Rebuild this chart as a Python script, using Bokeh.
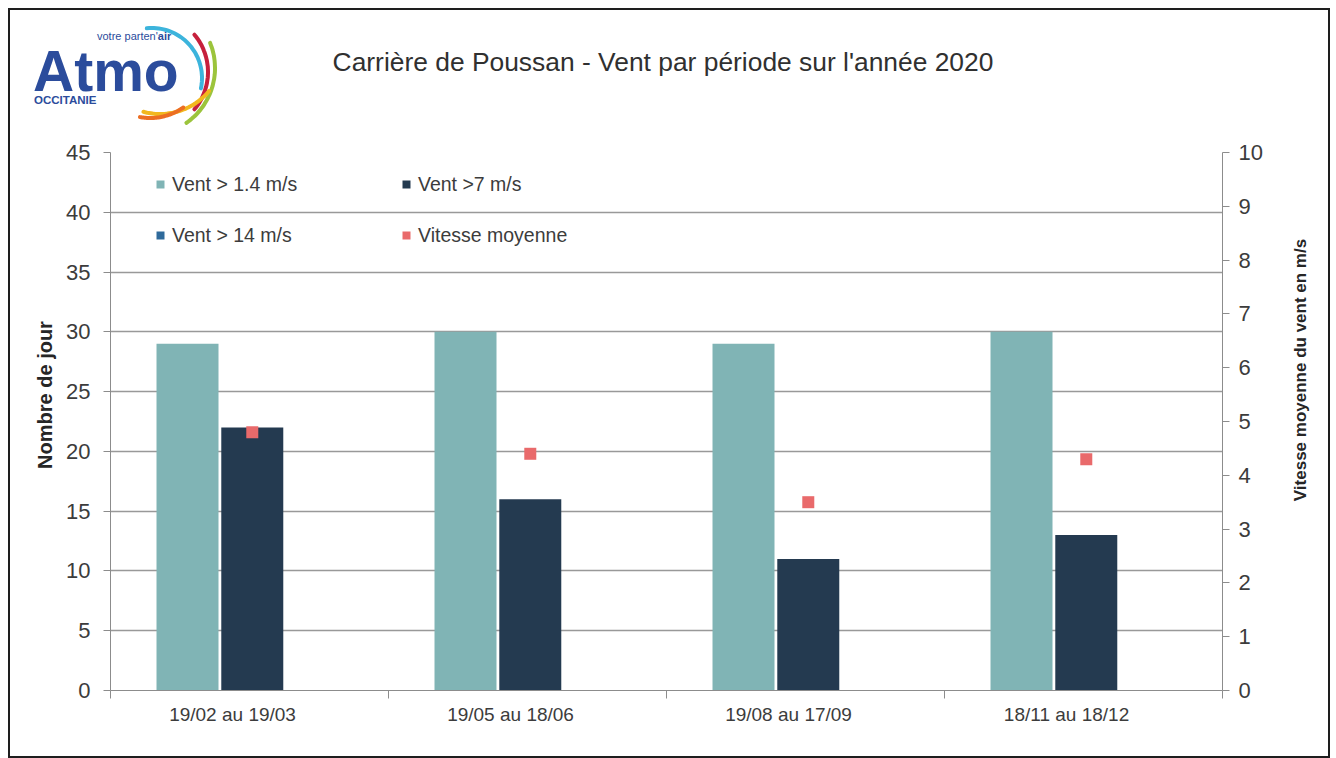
from bokeh.plotting import figure
from bokeh.models import Range1d, LinearAxis, FixedTicker, Legend, LegendItem, Div
from bokeh.layouts import column, row
from bokeh.embed import file_html
from bokeh.resources import INLINE
import numpy as np

# ---------------- data ----------------
periods = ["19/02 au 19/03", "19/05 au 18/06", "19/08 au 17/09", "18/11 au 18/12"]
vent_sup_1_4 = [29, 30, 29, 30]        # Vent > 1.4 m/s (nombre de jours)
vent_sup_7 = [22, 16, 11, 13]          # Vent > 7 m/s
vent_sup_14 = [0, 0, 0, 0]             # Vent > 14 m/s
vitesse_moyenne = [4.8, 4.4, 3.5, 4.3] # m/s (axe de droite)
left_ticks = [0, 5, 10, 15, 20, 25, 30, 35, 40, 45]
right_ticks = [0, 1, 2, 3, 4, 5, 6, 7, 8, 9, 10]
title_text = "Carrière de Poussan - Vent par période sur l'année 2020"
left_title = "Nombre de jour"
right_title = "Vitesse moyenne du vent en m/s"

FONT = "Liberation Sans"
TXT = "#3c3c3c"
AXC = "#8c8c8c"
C_TEAL = "#80b4b5"
C_DARK = "#243a50"
C_BLUE = "#2f6a9b"
C_RED = "#e96a6b"

W = 1318
H = 616
SIDE = 52

# ---------------- header (logo + title) as inline SVG ----------------
def arc_path(cx, cy, r, a1, a2, color, w=4):
    t = np.radians(np.linspace(a1, a2, 40))
    pts = [f"{cx + r * np.cos(a) - 10:.1f},{cy - r * np.sin(a) - 10:.1f}" for a in t]
    return (f'<polyline points="{" ".join(pts)}" fill="none" stroke="{color}" '
            f'stroke-width="{w}" stroke-linecap="round"/>')

arcs = [
    (152, 78, 50, -12, 96, "#3cb4dc"),
    (150, 72, 58, -40, 40, "#c6203c"),
    (148, 68, 67, -55, 22, "#9cc43c"),
    (160, 50, 64, -105, -40, "#f2b81e"),
    (150, 60, 58, -100, -55, "#ec6e22"),
]
svg = [f'<svg xmlns="http://www.w3.org/2000/svg" width="{W}" height="130" style="display:block">']
svg += [arc_path(*a) for a in arcs]
svg.append(f'<text x="23" y="81" font-family="{FONT}" font-weight="bold" font-size="57" '
           f'fill="#2b4c9c">Atmo</text>')
svg.append(f'<text x="87" y="30" font-family="{FONT}" font-size="11" fill="#2b4c9c">'
           f'votre parten\'<tspan font-weight="bold">air</tspan></text>')
svg.append(f'<text x="24" y="94" font-family="{FONT}" font-weight="bold" font-size="11.5" '
           f'fill="#2b4c9c">OCCITANIE</text>')
svg.append(f'<text x="653" y="61" text-anchor="middle" font-family="{FONT}" font-size="26.4" '
           f'fill="#303030">{title_text}</text>')
svg.append('</svg>')
header = Div(text="".join(svg), width=W, height=130, margin=0)

def side_title(text, cx, cy, size):
    s = (f'<svg xmlns="http://www.w3.org/2000/svg" width="{SIDE}" height="{H}" style="display:block">'
         f'<text transform="translate({cx},{cy}) rotate(-90)" text-anchor="middle" '
         f'dominant-baseline="central" font-family="{FONT}" font-weight="bold" '
         f'font-size="{size}" fill="#262626">{text}</text></svg>')
    return Div(text=s, width=SIDE, height=H, margin=0)

left_div = side_title(left_title, 35, 255, 20)
right_div = side_title(right_title, 24, 230, 17)

# ---------------- chart ----------------
n = len(periods)
xc = np.arange(n) + 0.5
BAR_W = 0.223

p = figure(width=W - 2 * SIDE, height=H, x_range=Range1d(0, n), y_range=Range1d(0, 45),
           toolbar_location=None, output_backend="svg",
           min_border_left=48, min_border_right=54, min_border_top=12, min_border_bottom=66)
p.extra_y_ranges = {"speed": Range1d(0, 10)}
p.background_fill_color = "white"
p.border_fill_color = "white"
p.outline_line_color = None

r1 = p.vbar(x=xc - BAR_W, top=vent_sup_1_4, width=BAR_W, fill_color=C_TEAL, line_color=None)
r2 = p.vbar(x=xc + 0.01, top=vent_sup_7, width=BAR_W, fill_color=C_DARK, line_color=None)
r3 = p.vbar(x=xc + BAR_W, top=vent_sup_14, width=BAR_W, fill_color=C_BLUE, line_color=None)
r4 = p.scatter(x=xc + 0.01, y=vitesse_moyenne, y_range_name="speed", marker="square", size=12,
               fill_color=C_RED, line_color=None)
# hidden renderer only used to draw a square key in the legend for the mean speed
r4_key = p.vbar(x=xc + 0.01, top=vitesse_moyenne, y_range_name="speed", width=BAR_W,
                fill_color=C_RED, line_color=None, visible=False)

# x axis: labels under each group, ticks at category boundaries
label_pos = list(xc - 0.061)
xax = p.xaxis[0]
xax.ticker = FixedTicker(ticks=label_pos, minor_ticks=list(range(n + 1)))
xax.major_label_overrides = {float(x): lab for x, lab in zip(label_pos, periods)}
xax.major_tick_out = 0
xax.major_tick_in = 0
xax.minor_tick_out = 8
xax.minor_tick_in = 0
xax.minor_tick_line_color = AXC
xax.axis_line_color = AXC
xax.major_label_text_font = FONT
xax.major_label_text_font_size = "19px"
xax.major_label_text_color = TXT
xax.major_label_standoff = 5

def style_tick_axis(ax):
    ax.major_tick_out = 7
    ax.major_tick_in = 0
    ax.minor_tick_line_color = None
    ax.axis_line_color = AXC
    ax.major_tick_line_color = AXC
    ax.major_label_text_font = FONT
    ax.major_label_text_font_size = "22px"
    ax.major_label_text_color = TXT

yax = p.yaxis[0]
yax.ticker = FixedTicker(ticks=left_ticks)
style_tick_axis(yax)
yax.major_label_standoff = 13

rax = LinearAxis(y_range_name="speed", ticker=FixedTicker(ticks=right_ticks))
style_tick_axis(rax)
rax.major_label_standoff = 9
p.add_layout(rax, "right")

p.xgrid.visible = False
p.ygrid.grid_line_color = "#999999"
p.ygrid.grid_line_width = 1.5

legend = Legend(items=[LegendItem(label="Vent > 1.4 m/s", renderers=[r1]),
                       LegendItem(label="Vent > 14 m/s", renderers=[r3]),
                       LegendItem(label="Vent >7 m/s", renderers=[r2]),
                       LegendItem(label="Vitesse moyenne", renderers=[r4_key])],
                ncols=2, location=(45, 435), padding=0, margin=0, spacing=11,
                glyph_width=10, glyph_height=10, label_standoff=7, label_width=218,
                label_height=40, label_text_font=FONT, label_text_font_size="19.5px",
                label_text_color=TXT, background_fill_alpha=0, border_line_alpha=0,
                inactive_fill_alpha=0)
p.add_layout(legend)

body = row(left_div, p, right_div, margin=0)
layout = column(header, body, margin=(8, 0, 0, 8), styles={"border": "2px solid #1e1e1e"})

open("out.html", "w").write(file_html(layout, INLINE))
